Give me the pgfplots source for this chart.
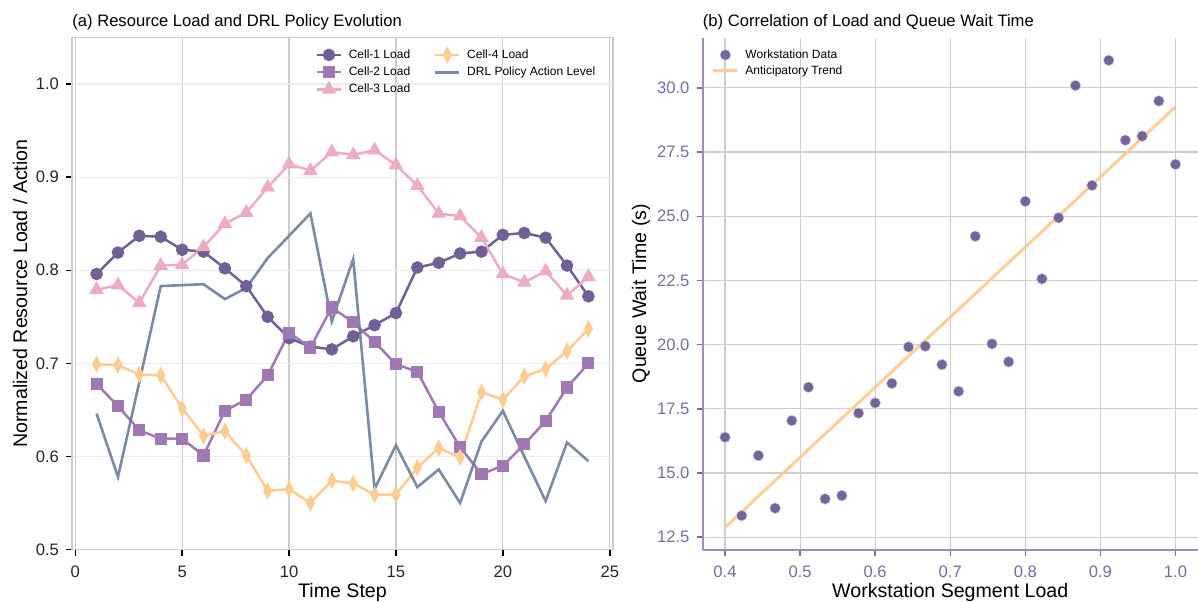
\documentclass[border=0pt]{standalone}
\usepackage{pgfplots}
\pgfplotsset{compat=1.18}
\usepackage{fontspec}
\setmainfont{Liberation Sans}
\setsansfont{Liberation Sans}
\definecolor{cA}{RGB}{112,96,150}
\definecolor{cB}{RGB}{160,120,180}
\definecolor{cC}{RGB}{238,172,196}
\definecolor{cD}{RGB}{253,204,145}
\definecolor{cE}{RGB}{102,117,148}
\definecolor{pspine}{RGB}{165,135,195}
\definecolor{ptick}{RGB}{118,108,160}
\definecolor{scat}{RGB}{117,100,155}
\definecolor{gridc}{RGB}{205,205,205}
\definecolor{gridl}{RGB}{236,236,236}
\begin{document}
\begin{tikzpicture}
\pgfplotsset{
  legimg/.style={legend image code/.code={\draw[mark repeat=2,mark phase=2] plot coordinates {(0pt,0pt) (6pt,0pt) (12pt,0pt)};}},
}
\begin{axis}[
  at={(36pt,-274.75pt)}, anchor=south west,
  scale only axis, width=270.5pt, height=256pt,
  xmin=-0.15, xmax=25.15, ymin=0.5, ymax=1.05,
  xtick={0,5,10,15,20,25}, ytick={0.5,0.6,0.7,0.8,0.9,1.0},
  yticklabel style={/pgf/number format/.cd, fixed, fixed zerofill, precision=1},
  xticklabel style={yshift=-1.5pt},
  /pgf/number format/assume math mode=true,
  tick label style={font=\fontsize{8.3}{10}\selectfont, color=black!85},
  tick align=outside, tick pos=left, major tick length=3pt,
  tick style={black, line width=0.7pt},
  axis line style={gridc, line width=0.9pt},
  xmajorgrids, ymajorgrids,
  x grid style={gridc, line width=0.6pt},
  y grid style={gridl, line width=0.6pt},
  title={(a) Resource Load and DRL Policy Evolution},
  title style={at={(axis description cs:0,1)}, anchor=base west, inner sep=0pt, yshift=-0.5pt, font=\fontsize{8.3}{10}\selectfont},
  xlabel={Time Step},
  xlabel style={at={(axis description cs:0.5,-0.084)}, anchor=center, font=\fontsize{9.8}{11}\selectfont},
  ylabel={Normalized Resource Load / Action},
  ylabel style={at={(axis description cs:-0.096,0.5)}, anchor=center, font=\fontsize{9.8}{11}\selectfont},
  legimg,
  legend columns=2,
  legend style={at={(axis description cs:0.982,0.989)}, anchor=north east, draw=none, fill=none,
    font=\fontsize{6}{7}\selectfont, row sep=1.2pt,
    nodes={inner sep=0.8pt, text height=4.5pt, text depth=1.3pt},
    /tikz/every odd column/.append style={column sep=2.5pt},
    /tikz/every even column/.append style={column sep=11pt}},
  legend cell align=left,
]
\addplot[cA, line width=1.25pt, mark=*, mark size=2.5pt, forget plot] coordinates {
(1,0.796) (2,0.819) (3,0.837) (4,0.836) (5,0.822) (6,0.820) (7,0.802) (8,0.783)
(9,0.750) (10,0.727) (11,0.718) (12,0.715) (13,0.729) (14,0.741) (15,0.754) (16,0.803)
(17,0.808) (18,0.818) (19,0.820) (20,0.838) (21,0.840) (22,0.835) (23,0.805) (24,0.772)};
\addplot[cB, line width=1.25pt, mark=square*, mark size=2.4pt, forget plot] coordinates {
(1,0.678) (2,0.654) (3,0.628) (4,0.619) (5,0.619) (6,0.601) (7,0.649) (8,0.661)
(9,0.687) (10,0.733) (11,0.717) (12,0.760) (13,0.744) (14,0.723) (15,0.699) (16,0.691)
(17,0.648) (18,0.610) (19,0.581) (20,0.590) (21,0.613) (22,0.638) (23,0.674) (24,0.700)};
\addplot[cC, line width=1.25pt, mark=triangle*, mark size=3pt, forget plot] coordinates {
(1,0.779) (2,0.784) (3,0.765) (4,0.805) (5,0.806) (6,0.825) (7,0.850) (8,0.862)
(9,0.889) (10,0.914) (11,0.907) (12,0.927) (13,0.924) (14,0.929) (15,0.913) (16,0.891)
(17,0.861) (18,0.858) (19,0.835) (20,0.796) (21,0.787) (22,0.799) (23,0.773) (24,0.793)};
\addplot[cD, line width=1.25pt, mark=diamond*, mark size=3pt, mark options={xscale=0.7}, forget plot] coordinates {
(1,0.699) (2,0.698) (3,0.688) (4,0.687) (5,0.652) (6,0.622) (7,0.627) (8,0.601)
(9,0.563) (10,0.565) (11,0.550) (12,0.574) (13,0.571) (14,0.559) (15,0.559) (16,0.588)
(17,0.609) (18,0.599) (19,0.669) (20,0.661) (21,0.686) (22,0.694) (23,0.713) (24,0.737)};
\addplot[cE, line width=1.3pt, opacity=0.85, forget plot] coordinates {
(1,0.646) (2,0.578) (3,0.680) (4,0.783) (5,0.784) (6,0.785) (7,0.769) (8,0.781)
(9,0.813) (10,0.837) (11,0.861) (12,0.745) (13,0.812) (14,0.565) (15,0.612) (16,0.567)
(17,0.586) (18,0.550) (19,0.616) (20,0.649) (21,0.600) (22,0.552) (23,0.615) (24,0.595)};
\addlegendimage{cA, line width=1.25pt, mark=*, mark size=2.5pt}
\addlegendentry{Cell-1 Load}
\addlegendimage{cD, line width=1.25pt, mark=diamond*, mark size=3pt, mark options={xscale=0.7}}
\addlegendentry{Cell-4 Load}
\addlegendimage{cB, line width=1.25pt, mark=square*, mark size=2.4pt}
\addlegendentry{Cell-2 Load}
\addlegendimage{cE, line width=1.4pt, opacity=0.85}
\addlegendentry{DRL Policy Action Level}
\addlegendimage{cC, line width=1.25pt, mark=triangle*, mark size=3pt}
\addlegendentry{Cell-3 Load}
\end{axis}
\begin{axis}[
  at={(351.25pt,-274.75pt)}, anchor=south west,
  scale only axis, width=247.75pt, height=256pt,
  xmin=0.37, xmax=1.03, ymin=12.02, ymax=31.96,
  xtick={0.4,0.5,0.6,0.7,0.8,0.9,1.0}, ytick={12.5,15,17.5,20,22.5,25,27.5,30},
  xticklabel style={yshift=-1.5pt, /pgf/number format/.cd, fixed, fixed zerofill, precision=1},
  yticklabel style={/pgf/number format/.cd, fixed, fixed zerofill, precision=1},
  /pgf/number format/assume math mode=true,
  tick label style={font=\fontsize{8.3}{10}\selectfont, color=ptick},
  axis x line*=bottom, axis y line*=left,
  x axis line style={-}, y axis line style={-},
  axis line style={pspine, line width=1pt},
  tick align=outside, major tick length=3pt,
  tick style={ptick, line width=0.7pt},
  xmajorgrids, ymajorgrids,
  grid style={gridc, line width=0.6pt},
  title={(b) Correlation of Load and Queue Wait Time},
  title style={at={(axis description cs:0,1)}, anchor=base west, inner sep=0pt, yshift=-0.5pt, font=\fontsize{8.3}{10}\selectfont},
  xlabel={Workstation Segment Load},
  xlabel style={at={(axis description cs:0.5,-0.084)}, anchor=center, font=\fontsize{9.8}{11}\selectfont},
  ylabel={Queue Wait Time (s)},
  ylabel style={at={(axis description cs:-0.124,0.5)}, anchor=center, font=\fontsize{9.8}{11}\selectfont},
  legimg,
  legend style={at={(axis description cs:0.006,0.989)}, anchor=north west, draw=none, fill=none,
    font=\fontsize{6}{7}\selectfont, row sep=0.6pt,
    nodes={inner sep=0.8pt, text height=4.5pt, text depth=1.3pt},
    /tikz/every odd column/.append style={column sep=2.5pt}},
  legend cell align=left,
]
\addplot[only marks, mark=*, mark size=2.7pt, mark options={fill=scat, draw=white!70!scat, line width=0.3pt}] coordinates {
(0.4000,16.39) (0.4222,13.34) (0.4444,15.68) (0.4667,13.63) (0.4889,17.04) (0.5111,18.34)
(0.5333,13.99) (0.5556,14.12) (0.5778,17.33) (0.6000,17.73) (0.6222,18.49) (0.6444,19.91)
(0.6667,19.94) (0.6889,19.22) (0.7111,18.18) (0.7333,24.22) (0.7556,20.03) (0.7778,19.33)
(0.8000,25.58) (0.8222,22.56) (0.8444,24.94) (0.8667,30.09) (0.8889,26.20) (0.9111,31.07)
(0.9333,27.96) (0.9556,28.12) (0.9778,29.49) (1.0000,27.02)};
\addlegendentry{Workstation Data}
\addplot[cD, line width=1.5pt, opacity=0.95] coordinates {(0.4,12.88) (1.0,29.26)};
\addlegendentry{Anticipatory Trend}
\end{axis}
\pgfresetboundingbox
\path (0pt,0pt) rectangle (599pt,-300.5pt);
\end{tikzpicture}
\end{document}
